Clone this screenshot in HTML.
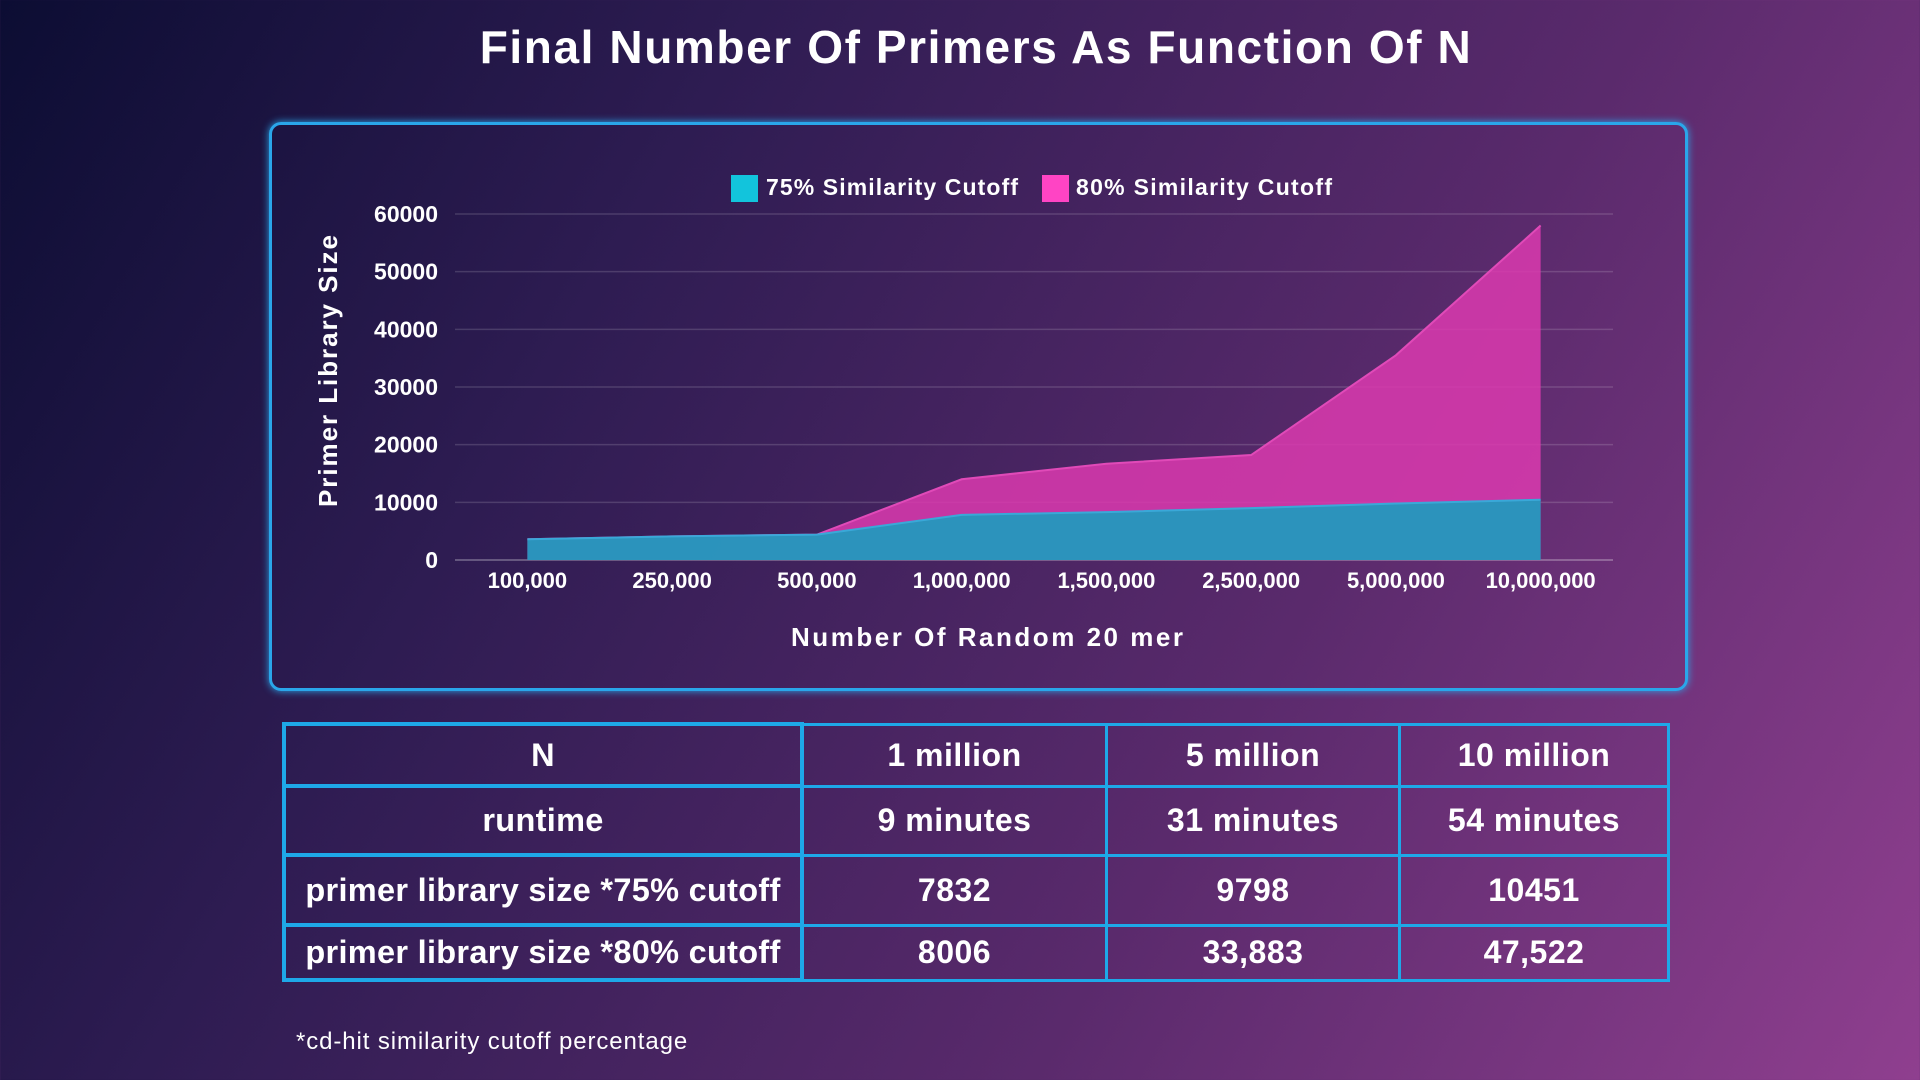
<!DOCTYPE html>
<html><head><meta charset="utf-8">
<style>
html,body{margin:0;padding:0}
body{width:1920px;height:1080px;overflow:hidden;position:relative;font-family:"Liberation Sans",sans-serif;color:#fff;
background:linear-gradient(120deg,#0c0d33 0%,#2e1c52 30%,#5a2a6c 65%,#8f3f8f 100%);}
#title{position:absolute;left:0;width:1952px;top:20px;text-align:center;font-size:46px;font-weight:bold;letter-spacing:1.6px}
#panel{position:absolute;left:269px;top:122px;width:1413px;height:563px;border:3px solid #2aa6ea;border-radius:12px;box-shadow:0 0 8px #2aa6ea}
svg{position:absolute;left:0;top:0}
table{position:absolute;left:282px;top:722px;border-collapse:collapse;width:1388px;height:260px}
td{border:3px solid #1ea8e8;text-align:center;font-size:32px;font-weight:bold;padding:0;letter-spacing:0.5px}
td.first{border-width:4px;letter-spacing:0.3px;font-size:32.5px}
#foot{position:absolute;left:296px;top:1028px;font-size:24px;letter-spacing:0.9px;font-weight:300}
</style></head><body>
<div id="title">Final Number Of Primers As Function Of N</div>
<div id="panel"></div>
<svg id="chart" width="1920" height="1080"></svg>
<table>
<tr style="height:62px"><td class="first" style="width:514px">N</td><td style="width:301px">1 million</td><td style="width:290px">5 million</td><td>10 million</td></tr>
<tr style="height:69px"><td class="first">runtime</td><td>9 minutes</td><td>31 minutes</td><td>54 minutes</td></tr>
<tr style="height:70px"><td class="first">primer library size *75% cutoff</td><td>7832</td><td>9798</td><td>10451</td></tr>
<tr><td class="first">primer library size *80% cutoff</td><td>8006</td><td>33,883</td><td>47,522</td></tr>
</table>
<div id="foot">*cd-hit similarity cutoff percentage</div>
<script>
const categories=["100,000","250,000","500,000","1,000,000","1,500,000","2,500,000","5,000,000","10,000,000"];
const series75=[3600,4100,4400,7832,8300,9000,9798,10451];
const series80=[3600,4100,4400,14000,16700,18200,35500,58000];
const yTicks=[0,10000,20000,30000,40000,50000,60000];
const NS="http://www.w3.org/2000/svg";
const svg=document.getElementById('chart');
const X0=455,X1=1613,Y0=560,Y1=214,YMAX=60000;
const band=(X1-X0)/categories.length;
const x=i=>X0+band*(i+0.5);
const y=v=>Y0-(v/YMAX)*(Y0-Y1);
function mk(t,a){const e=document.createElementNS(NS,t);for(const k in a)e.setAttribute(k,a[k]);svg.appendChild(e);return e;}
yTicks.forEach(v=>{
 const l=mk('line',{x1:X0,x2:X1,y1:y(v),y2:y(v),stroke:v===0?'rgba(255,255,255,0.35)':'rgba(255,255,255,0.15)','stroke-width':1.5});
 
 
 const t=mk('text',{x:438,y:y(v)+8,'text-anchor':'end',fill:'#fff','font-size':23,'font-weight':'bold'});
 t.textContent=v;
 
 
});
function area(vals,fill,stroke,name){
 let d='M'+x(0)+','+Y0;
 vals.forEach((v,i)=>d+=' L'+x(i)+','+y(v));
 d+=' L'+x(vals.length-1)+','+Y0+' Z';
 const p=mk('path',{d:d,fill:fill});
 
 
 let ld='';vals.forEach((v,i)=>ld+=(i?' L':'M')+x(i)+','+y(v));
 const l=mk('path',{d:ld,fill:'none',stroke:stroke,'stroke-width':2});
 
 
}
area(series80,'rgba(220,58,175,0.85)','#e04ab8','area-80');
area(series75,'rgba(30,155,190,0.92)','#3aa8d8','area-75');
categories.forEach((c,i)=>{
 const t=mk('text',{x:x(i),y:588,'text-anchor':'middle',fill:'#fff','font-size':22,'font-weight':'bold'});
 t.textContent=c;
 
 
});
let t=mk('text',{x:987,y:646,'text-anchor':'middle',fill:'#fff','font-size':26,'font-weight':'bold',textLength:392,lengthAdjust:'spacing'});
t.textContent='Number Of Random 20 mer';


t=mk('text',{x:0,y:0,'text-anchor':'middle',fill:'#fff','font-size':26,'font-weight':'bold',textLength:272,lengthAdjust:'spacing',transform:'translate(337,371) rotate(-90)'});
t.textContent='Primer Library  Size';


let r=mk('rect',{x:731,y:175,width:27,height:27,fill:'#12c4dc'});


t=mk('text',{x:766,y:195,fill:'#fff','font-size':23,'font-weight':'bold',textLength:252,lengthAdjust:'spacing'});t.textContent='75% Similarity Cutoff';


r=mk('rect',{x:1042,y:175,width:27,height:27,fill:'#ff44c4'});


t=mk('text',{x:1076,y:195,fill:'#fff','font-size':23,'font-weight':'bold',textLength:256,lengthAdjust:'spacing'});t.textContent='80% Similarity Cutoff';


</script>
</body></html>
